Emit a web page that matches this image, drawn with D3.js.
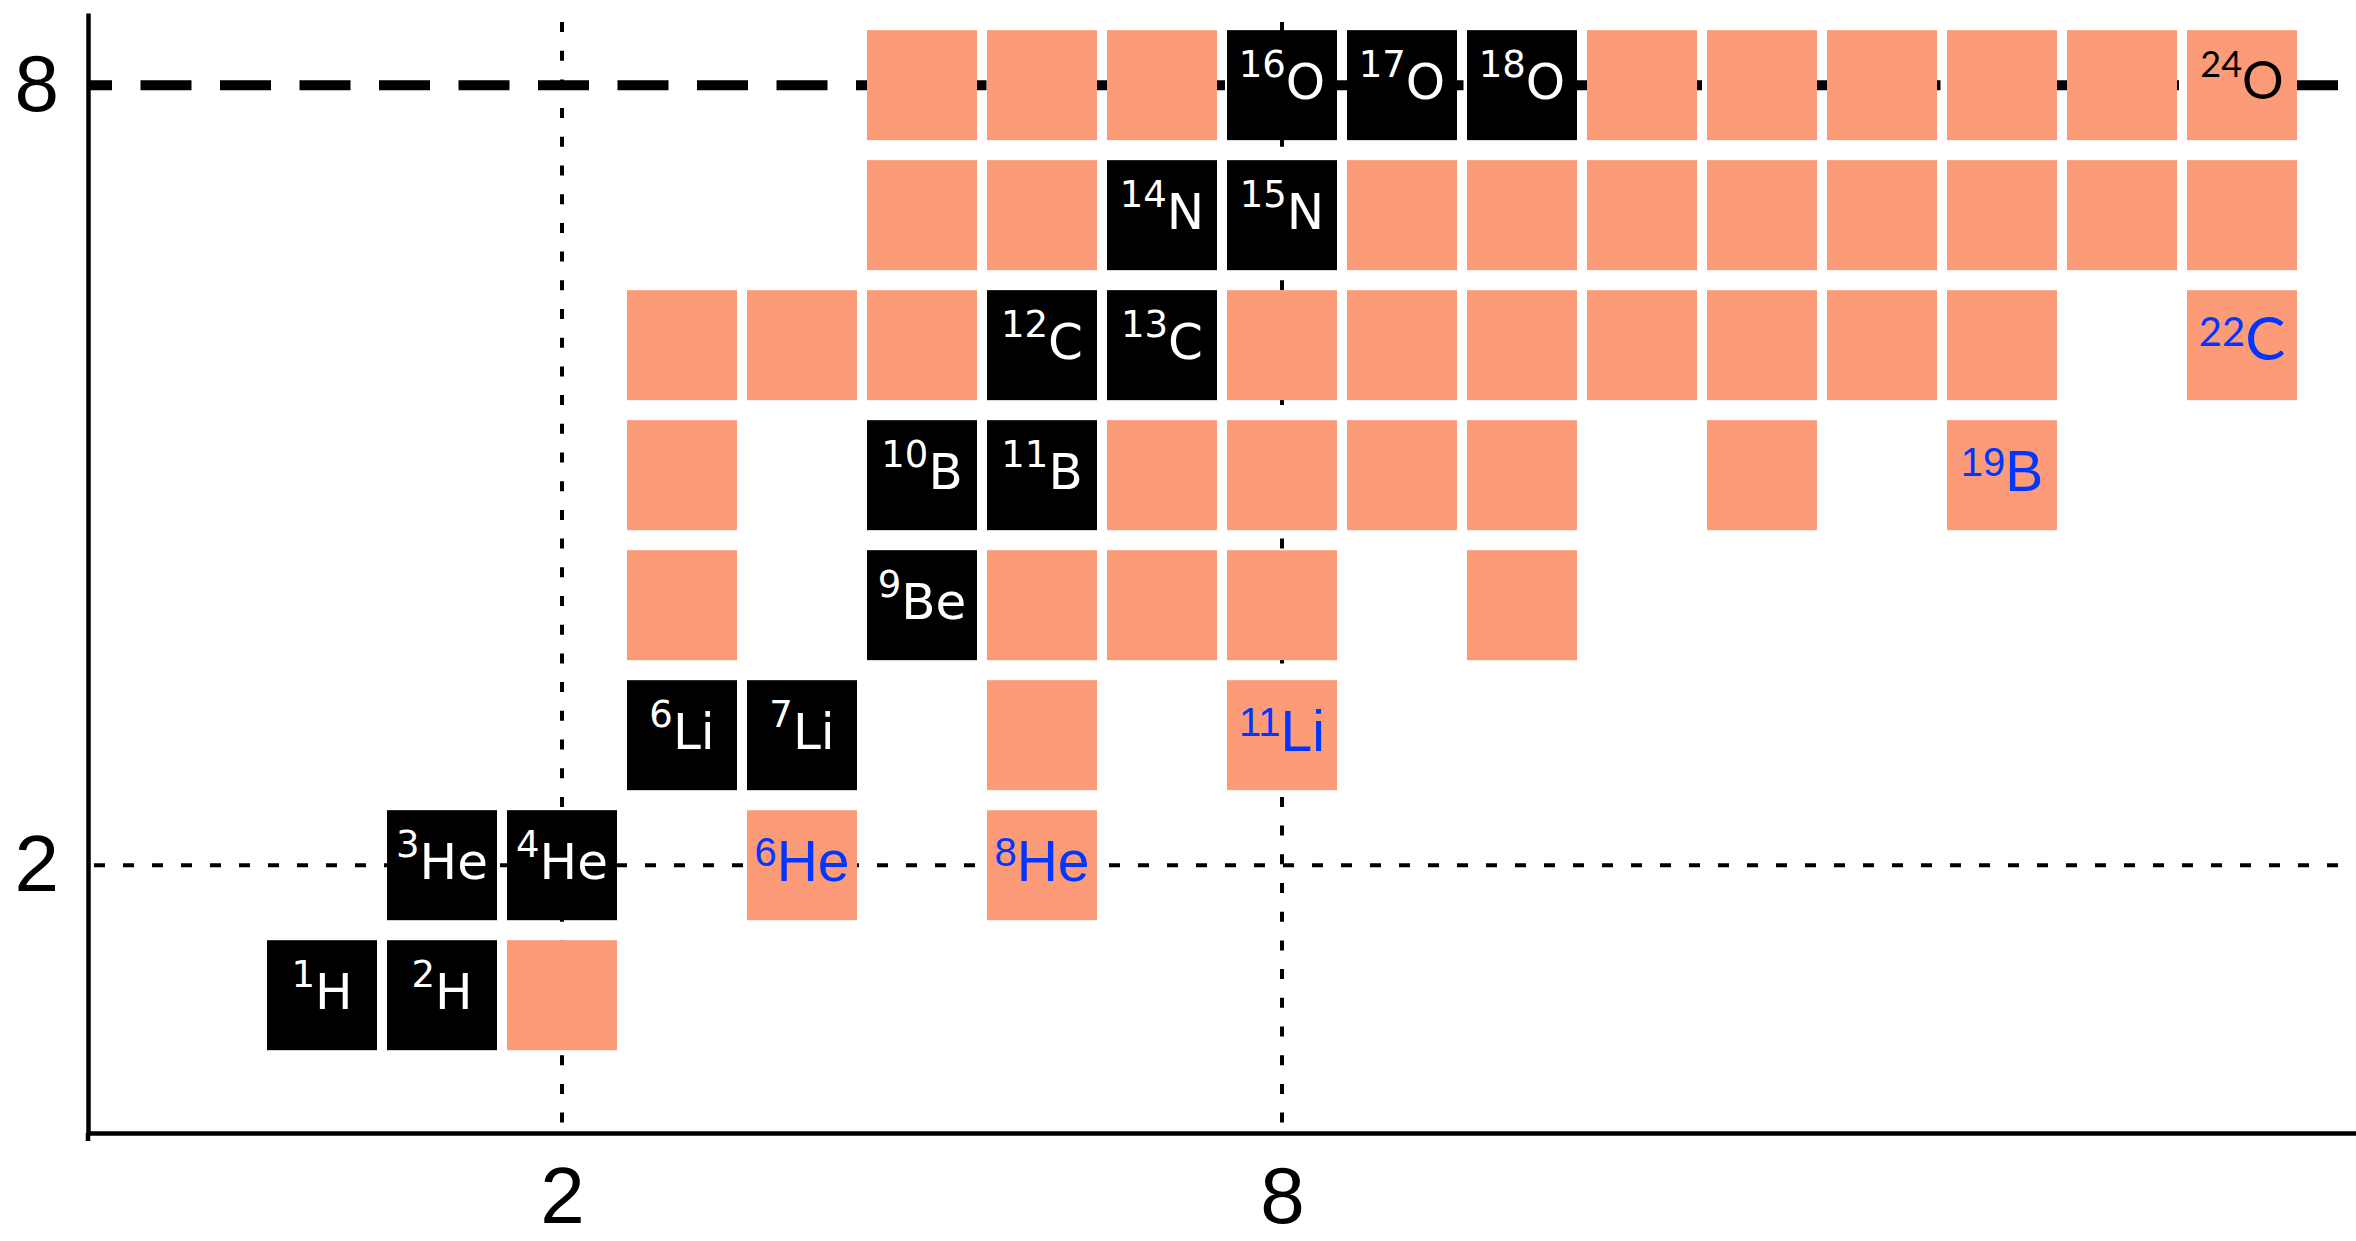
<!DOCTYPE html>
<html><head><meta charset="utf-8">
<script src="https://cdn.jsdelivr.net/npm/d3@7"></script>
<style>html,body{margin:0;padding:0;background:#fff;} svg{display:block}</style>
</head><body>
<svg id="chart" width="2356" height="1241"></svg>
<script>
// ---- data ----
const elements = ["H","He","Li","Be","B","C","N","O"];
const protonNumbers = [1,2,3,4,5,6,7,8];
const neutronsH  = [0,1,2];
const neutronsHe = [1,2,4,6];
const neutronsLi = [3,4,6,8];
const neutronsBe = [3,5,6,7,8,10];
const neutronsB  = [3,5,6,7,8,9,10,12,14];
const neutronsC  = [3,4,5,6,7,8,9,10,11,12,13,14,16];
const neutronsN  = [5,6,7,8,9,10,11,12,13,14,15,16];
const neutronsO  = [5,6,7,8,9,10,11,12,13,14,15,16];
const stableNuclides = ["1H","2H","3He","4He","6Li","7Li","9Be","10B","11B","12C","13C","14N","15N","16O","17O","18O"];
const haloNuclides = ["6He","8He","11Li","19B","22C"];
const driplineNuclides = ["24O"];
const humanistFontLabels = ["22C","24O"];
const xTickValues = [2,8];
const yTickValues = [2,8];
const magicZDashed = [8];
const magicZDotted = [2];
const magicNDotted = [2,8];

// ---- build ----
const neutronLists = [neutronsH, neutronsHe, neutronsLi, neutronsBe, neutronsB, neutronsC, neutronsN, neutronsO];
const nuclides = [];
protonNumbers.forEach((Z, i) => {
  neutronLists[i].forEach(N => {
    const sym = elements[i];
    const A = Z + N;
    nuclides.push({Z, N, A, sym, label: `${A}${sym}`});
  });
});

const W = 2356, H = 1241;
const svg = d3.select("#chart");

const x = d3.scaleLinear().domain([-1.95, 16.95]).range([88, 2356]);
const y = d3.scaleLinear().domain([-0.06, 8.555]).range([1133, 13]);

const salmon = "#FC9B78";
const blue = "#0036FF";
const cell = 110;

// reference lines (behind cells)
const lines = svg.append("g");
lines.selectAll("line.zdash").data(magicZDashed).join("line")
  .attr("x1", x.range()[0]).attr("x2", W)
  .attr("y1", d => y(d)).attr("y2", d => y(d))
  .attr("stroke", "#000").attr("stroke-width", 10)
  .attr("stroke-dasharray", "51,28.5").attr("stroke-dashoffset", 27);
lines.selectAll("line.zdot").data(magicZDotted).join("line")
  .attr("x1", x.range()[0]).attr("x2", W)
  .attr("y1", d => y(d)).attr("y2", d => y(d))
  .attr("stroke", "#000").attr("stroke-width", 4)
  .attr("stroke-dasharray", "11,18").attr("stroke-dashoffset", 23);
lines.selectAll("line.ndot").data(magicNDotted).join("line")
  .attr("x1", d => x(d)).attr("x2", d => x(d))
  .attr("y1", 22).attr("y2", y.range()[0])
  .attr("stroke", "#000").attr("stroke-width", 4)
  .attr("stroke-dasharray", "10,18.7");

// cells
const cells = svg.append("g");
cells.selectAll("rect").data(nuclides).join("rect")
  .attr("x", d => x(d.N) - cell/2)
  .attr("y", d => y(d.Z) - cell/2)
  .attr("width", cell).attr("height", cell)
  .attr("fill", d => stableNuclides.includes(d.label) ? "#000" : salmon);

// labels
const labelled = nuclides.filter(d => stableNuclides.includes(d.label) || haloNuclides.includes(d.label) || driplineNuclides.includes(d.label));
const labels = svg.append("g");
labelled.forEach(d => {
  let font, fill, mainSize, supSize, raise, base;
  if (stableNuclides.includes(d.label)) {
    font = "DejaVu Sans"; fill = "#fff"; mainSize = 50; supSize = 37; raise = 22; base = 14;
  } else if (humanistFontLabels.includes(d.label)) {
    font = "Lato"; fill = haloNuclides.includes(d.label) ? blue : "#000";
    if (haloNuclides.includes(d.label)) { mainSize = 60; supSize = 40; raise = 14; base = 15; }
    else { mainSize = 52; supSize = 36; raise = 22; base = 14; }
  } else {
    font = "Liberation Sans"; fill = blue; mainSize = 57; supSize = 40; raise = 15; base = 16;
  }
  const t = labels.append("text")
    .attr("x", x(d.N)).attr("y", y(d.Z) + base)
    .attr("text-anchor", "middle")
    .attr("font-family", font).attr("fill", fill);
  t.append("tspan").attr("font-size", supSize).attr("dy", -raise).text(d.A);
  t.append("tspan").attr("font-size", mainSize).attr("dy", raise).text(d.sym);
});

// axes
const xAxis = d3.axisBottom(x).tickValues(xTickValues).tickSize(0).tickSizeOuter(0).tickPadding(33).tickFormat(d3.format("d"));
const yAxis = d3.axisLeft(y).tickValues(yTickValues).tickSize(0).tickSizeOuter(0).tickPadding(29).tickFormat(d3.format("d"));

const gx = svg.append("g").attr("transform", `translate(0,${y.range()[0]})`).call(xAxis);
const gy = svg.append("g").attr("transform", `translate(${x.range()[0]},0)`).call(yAxis);
[gx, gy].forEach(g => {
  g.select(".domain").attr("stroke", "#000").attr("stroke-width", 4.5);
  g.selectAll("text").attr("font-family", "Liberation Sans").attr("font-size", 80).attr("fill", "#000");
});
gy.append("line").attr("x1", 0).attr("x2", 0).attr("y1", y.range()[0]).attr("y2", y.range()[0] + 8)
  .attr("stroke", "#000").attr("stroke-width", 4.5);
</script>
</body></html>
